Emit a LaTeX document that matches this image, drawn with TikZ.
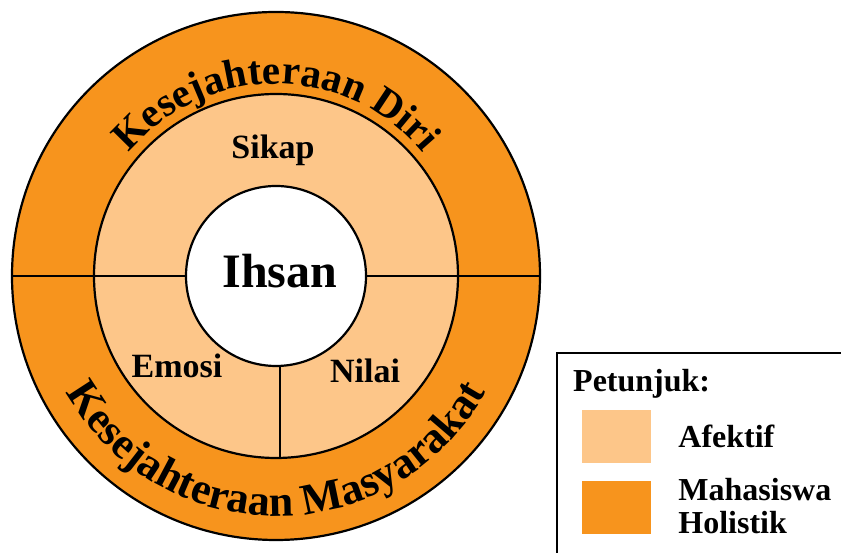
\documentclass[tikz,border=0pt]{standalone}
\usepackage{fontspec}
\setmainfont{Liberation Serif}
\usetikzlibrary{positioning, decorations.text}

\definecolor{holistik}{HTML}{F7941D}
\definecolor{afektif}{HTML}{FDC689}
\newcommand{\topringfont}{\bfseries\fontsize{41}{41}\selectfont}
\newcommand{\botringfont}{\bfseries\fontsize{44}{44}\selectfont}

\begin{document}
\begin{tikzpicture}[x=1pt, y=1pt,
    ring/.style={draw=black, line width=2.2pt},
    divider/.style={draw=black, line width=1.6pt},
    lbl/.style={font=\bfseries\fontsize{34}{34}\selectfont, inner sep=0pt},
    legtext/.style={font=\bfseries\fontsize{32}{33}\selectfont, inner sep=0pt, align=left},
    swatch/.style={minimum width=69pt, minimum height=53pt, inner sep=0pt}]

\useasboundingbox (0,0) rectangle (841,553);

% 圆环
\begin{scope}[shift={(276,277)}]
    % 三层圆
    \draw[ring, fill=holistik] (0,0) circle (264pt);
    \draw[ring, fill=afektif] (0,0) circle (182pt);
    \draw[ring, fill=white] (0,0) circle (90pt);

    % 分隔线
    \draw[divider] (-264,0) -- (-90,0);
    \draw[divider] (90,0) -- (264,0);
    \draw[black, line width=1.2pt] (4,-90) -- (4,-182);

    % 弧形文字
    \path[decorate, decoration={text along path, text align=center,
        text={|\topringfont|Kesejahteraan Diri}}]
        (-192,0) arc[start angle=180, end angle=0, radius=192pt];
    \path[decorate, decoration={text along path, text align=center,
        text={|\botringfont|Kesejahteraan Masyarakat}}]
        (-240,0) arc[start angle=180, end angle=360, radius=240pt];

    % 标签
    \node[lbl, font=\bfseries\fontsize{48}{48}\selectfont, anchor=base] (ihsan) at (4,-12) {Ihsan};
    \node[lbl, anchor=base] (sikap) at (-3,117) {Sikap};
    \node[lbl, anchor=base] (emosi) at (-99,-102) {Emosi};
    \node[lbl, anchor=base] (nilai) at (89,-107) {Nilai};
\end{scope}

% 图例
\draw[line width=2pt] (557,-5) |- (846,200);
\node[legtext, anchor=base west] (petunjuk) at (573,161) {Petunjuk:};
\node[swatch, fill=afektif] (afbox) at (616.5,116.5) {};
\node[swatch, fill=holistik, below=18pt of afbox] (holbox) {};
\node[legtext, right=27pt of afbox] (aftext) {Afektif};
\node[legtext, right=27pt of holbox, yshift=1.5pt] (holtext) {Mahasiswa\\Holistik};

\end{tikzpicture}
\end{document}
